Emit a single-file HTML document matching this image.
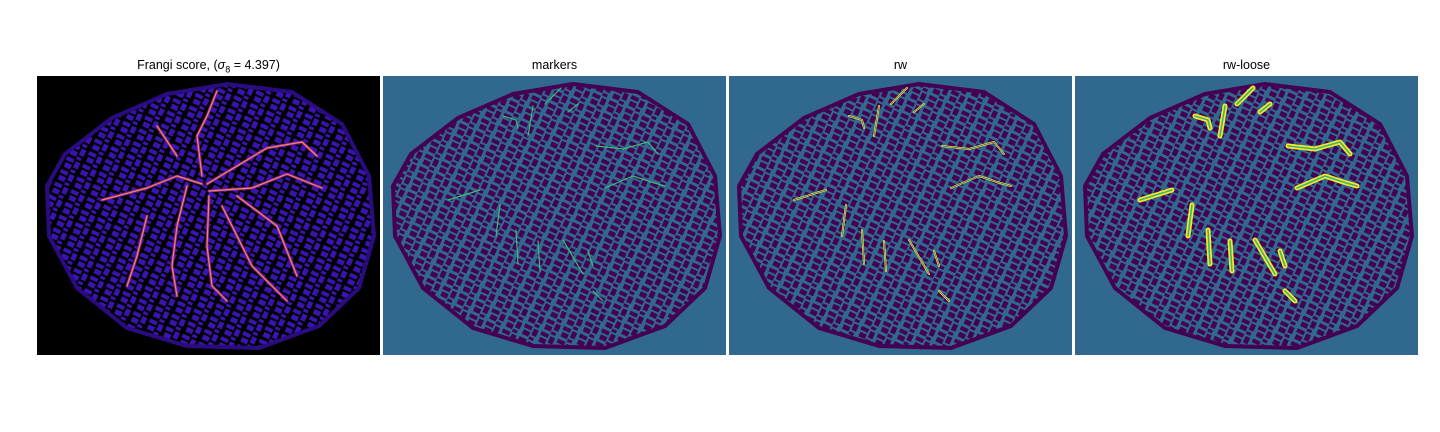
<!DOCTYPE html>
<html><head><meta charset="utf-8">
<style>
html,body{margin:0;padding:0;background:#fff;width:1440px;height:432px;overflow:hidden;font-family:"Liberation Sans","DejaVu Sans",sans-serif}
.t{position:absolute;top:58px;font-size:12.5px;color:#000;text-align:center;width:343px}
svg{position:absolute;left:0;top:0}
</style></head><body>
<div class="t" style="left:37px">Frangi score, (<i>σ</i><sub style="font-size:9px">8</sub> = 4.397)</div>
<div class="t" style="left:383px">markers</div>
<div class="t" style="left:729px">rw</div>
<div class="t" style="left:1075px">rw-loose</div>
<svg id="s" width="1440" height="432">
<defs>
<pattern id="pt" width="18" height="14" patternUnits="userSpaceOnUse" patternTransform="rotate(25)">
<rect width="18" height="14" fill="#31688e"/>
<path d="M1 1h8v4h-8zM11 2h5v7h-5zM2 7h7v5h-7zM10 11h5v3h-5z" fill="#440154"/>
</pattern>
<pattern id="pf" width="18" height="14" patternUnits="userSpaceOnUse" patternTransform="rotate(25)">
<rect width="18" height="14" fill="#000"/>
<path d="M1 1h8v4h-8zM11 2h5v7h-5zM2 7h7v5h-7zM10 11h5v3h-5z" fill="#3a14b0"/>
</pattern>
</defs>
</svg>
<script>
const panelX=[37,383,729,1075];
const blob=[[10,110],[28,78],[75,42],[130,18],[190,8],[255,16],[305,48],[332,100],[337,160],[322,212],[282,250],[222,272],[150,270],[90,252],[40,212],[12,160]];
const vessels=[[[65,124],[97,114]],[[213,70],[240,73],[265,66],[275,78]],[[222,112],[250,100],[268,106],[282,110]],[[162,28],[170,20],[178,12]],[[120,40],[133,44],[135,52]],[[117,129],[113,160]],[[133,154],[135,188]],[[155,165],[157,195]],[[180,164],[200,198]],[[205,175],[210,190]],[[210,215],[220,225]],[[150,30],[145,60]],[[185,36],[195,28]]];
const frangi=[[[65,124],[110,112],[140,100],[165,108]],[[170,108],[200,90],[230,72],[265,66],[280,80]],[[172,115],[215,112],[250,98],[285,112]],[[165,100],[160,60],[170,40],[180,15]],[[150,110],[140,150],[135,190],[140,220]],[[172,120],[170,170],[175,210],[190,225]],[[185,130],[215,190],[240,215],[250,225]],[[110,140],[100,180],[90,210]],[[200,120],[240,150],[260,200]],[[140,80],[120,50]]];
const S=document.getElementById('s');
const NS='http://www.w3.org/2000/svg';
function pts(a,ox){return a.map(p=>(p[0]+ox)+','+(p[1]+76)).join(' ');}
panelX.forEach((ox,i)=>{
 const bg=document.createElementNS(NS,'rect');
 
 
 bg.setAttribute('x',ox);bg.setAttribute('y',76);bg.setAttribute('width',343);bg.setAttribute('height',279);
 bg.setAttribute('fill',i==0?'#000':'#31688e');S.appendChild(bg);
 const b=document.createElementNS(NS,'polygon');
 
 
 b.setAttribute('points',pts(blob,ox));b.setAttribute('fill',i==0?'url(#pf)':'url(#pt)');
 b.setAttribute('stroke',i==0?'#2a0c80':'#440154');b.setAttribute('stroke-width',4);b.setAttribute('stroke-linejoin','round');
 S.appendChild(b);
 const list=i==0?frangi:vessels;
 list.forEach(v=>{
  const configs=i==0?[['#8a1c9a',3],['#f08a50',1.2]]:i==1?[['#3fbc73',1.2]]:i==2?[['#fde725',2],['#31688e',0.7]]:[['#fde725',5],['#35b779',1.6]];
  configs.forEach(c=>{
   const l=document.createElementNS(NS,'polyline');
   
   
   l.setAttribute('points',pts(v,ox));l.setAttribute('fill','none');
   l.setAttribute('stroke',c[0]);l.setAttribute('stroke-width',c[1]);l.setAttribute('stroke-linecap','round');l.setAttribute('stroke-linejoin','round');
   S.appendChild(l);
  });
 });
});
</script>
</body></html>
